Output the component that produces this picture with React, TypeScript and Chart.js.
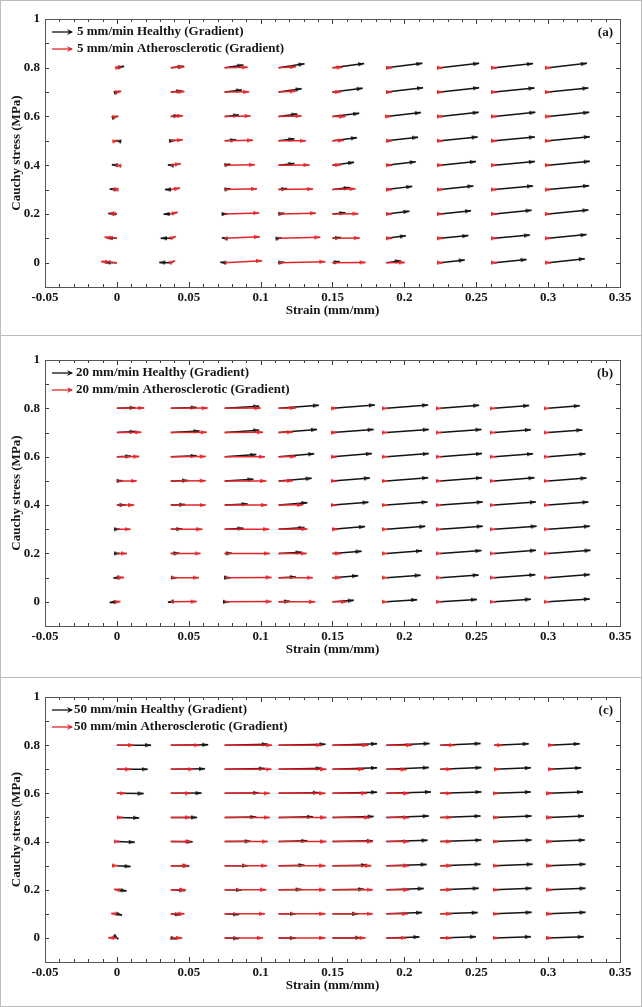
import React, { useEffect, useRef } from 'react';
import { Chart, registerables } from 'chart.js';

Chart.register(...registerables);

// Grid of arrow tails
const strainGrid = [0, 0.0375, 0.075, 0.1125, 0.15, 0.1875, 0.225, 0.2625, 0.3];
const stressGrid = [0.8, 0.7, 0.6, 0.5, 0.4, 0.3, 0.2, 0.1, 0];

// Axis definition
const xMin = -0.05;
const xMax = 0.35;
const xStep = 0.01;
const xLabelStep = 0.05;
const yMin = -0.1;
const yMax = 1;
const yStep = 0.1;
const yLabelStep = 0.2;

const xTitle = 'Strain (mm/mm)';
const yTitle = 'Cauchy stress (MPa)';

// ---------- Panel (a) 5 mm/min ----------
// rows follow stressGrid (0.8 -> 0), columns follow strainGrid
const aHealthyU = [
  [0.005, 0.009, 0.013, 0.018, 0.022, 0.025, 0.027, 0.027, 0.027],
  [0.002, 0.008, 0.012, 0.016, 0.021, 0.0255, 0.027, 0.028, 0.028],
  [0.0005, 0.006, 0.01, 0.013, 0.0186, 0.024, 0.0267, 0.0286, 0.0286],
  [-0.001, 0.003, 0.008, 0.011, 0.017, 0.022, 0.026, 0.0283, 0.029],
  [-0.0035, -0.002, 0.004, 0.011, 0.015, 0.0204, 0.0248, 0.0283, 0.029],
  [-0.005, -0.004, 0.004, 0.006, 0.012, 0.018, 0.023, 0.027, 0.0285],
  [-0.006, -0.005, 0.002, 0.004, 0.009, 0.016, 0.0214, 0.026, 0.028],
  [-0.007, -0.007, -0.002, 0.002, 0.006, 0.0135, 0.0195, 0.0248, 0.0267],
  [-0.0085, -0.008, -0.003, 0.004, 0.005, 0.01, 0.017, 0.0225, 0.0255],
];
const aHealthyV = [
  [0.006, 0.006, 0.011, 0.016, 0.017, 0.018, 0.018, 0.017, 0.018],
  [0.004, 0.005, 0.009, 0.014, 0.016, 0.018, 0.018, 0.017, 0.017],
  [0.001, 0.004, 0.006, 0.01, 0.013, 0.016, 0.017, 0.017, 0.017],
  [0.001, 0.002, 0.004, 0.008, 0.013, 0.015, 0.016, 0.016, 0.017],
  [0.002, 0.002, 0.004, 0.007, 0.012, 0.014, 0.015, 0.015, 0.016],
  [0.002, 0.0, 0.003, 0.004, 0.008, 0.013, 0.015, 0.015, 0.016],
  [0.002, -0.001, 0.001, 0.003, 0.005, 0.011, 0.013, 0.015, 0.016],
  [0.002, 0.0, 0.002, 0.002, 0.003, 0.01, 0.011, 0.013, 0.015],
  [0.001, 0.001, 0.002, 0.002, 0.005, 0.008, 0.011, 0.013, 0.016],
];
const aAthU = [
  [0.003, 0.0095, 0.016, 0.012, 0.007, 0.004, 0.002, 0.002, 0.002],
  [0.003, 0.0095, 0.017, 0.012, 0.006, 0.004, 0.002, 0.002, 0.002],
  [0.001, 0.0085, 0.018, 0.016, 0.009, 0.003, 0.002, 0.002, 0.002],
  [0.001, 0.0084, 0.0197, 0.019, 0.008, 0.004, 0.002, 0.002, 0.002],
  [-0.001, 0.007, 0.021, 0.0215, 0.006, 0.004, 0.002, 0.002, 0.002],
  [-0.003, 0.0065, 0.0225, 0.024, 0.016, 0.004, 0.002, 0.002, 0.002],
  [-0.005, 0.0048, 0.024, 0.026, 0.018, 0.004, 0.002, 0.002, 0.002],
  [-0.0085, 0.0035, 0.0245, 0.029, 0.019, 0.004, 0.002, 0.002, 0.002],
  [-0.011, 0.003, 0.026, 0.0325, 0.023, 0.0128, 0.002, 0.002, 0.002],
];
const aAthV = [
  [0.003, 0.004, 0.002, 0.004, 0.002, 0, 0, 0, 0],
  [0.003, 0.002, 0.001, 0.004, 0.001, 0, 0, 0, 0],
  [0.001, 0.003, 0.002, 0.002, 0, 0, 0, 0, 0],
  [0.001, 0.004, 0.002, 0.0, 0.002, 0, 0, 0, 0],
  [0.001, 0.006, 0.002, 0.001, 0.002, 0, 0, 0, 0],
  [0.001, 0.006, 0.003, 0.002, 0.003, 0, 0, 0, 0],
  [0.002, 0.007, 0.004, 0.003, 0.001, 0, 0, 0, 0],
  [0.004, 0.007, 0.006, 0.004, 0.001, 0, 0, 0, 0],
  [0.005, 0.008, 0.008, 0.004, 0.001, 0.001, 0, 0, 0],
];

// ---------- Panel (b) 20 mm/min ----------
const bHealthyU = [
  [0.013, 0.018, 0.024, 0.028, 0.0295, 0.029, 0.027, 0.0243, 0.022],
  [0.013, 0.02, 0.024, 0.0267, 0.0286, 0.0295, 0.0286, 0.0255, 0.0238],
  [0.01, 0.018, 0.022, 0.0248, 0.0274, 0.0295, 0.029, 0.027, 0.026],
  [0.004, 0.012, 0.02, 0.023, 0.026, 0.029, 0.029, 0.028, 0.0267],
  [0.006, 0.01, 0.016, 0.02, 0.025, 0.0286, 0.0295, 0.029, 0.028],
  [0.002, 0.008, 0.013, 0.018, 0.0226, 0.027, 0.0295, 0.0295, 0.029],
  [0.002, 0.006, 0.005, 0.016, 0.0202, 0.0248, 0.0286, 0.029, 0.0295],
  [-0.0025, 0.004, 0.004, 0.012, 0.0178, 0.0238, 0.0267, 0.0286, 0.029],
  [-0.005, -0.002, 0.003, 0.008, 0.0148, 0.0214, 0.0255, 0.0255, 0.029],
];
const bHealthyV = [
  [0.003, 0.004, 0.009, 0.013, 0.014, 0.014, 0.013, 0.012, 0.011],
  [0.004, 0.006, 0.01, 0.013, 0.013, 0.013, 0.013, 0.012, 0.011],
  [0.002, 0.004, 0.009, 0.012, 0.013, 0.013, 0.013, 0.012, 0.012],
  [0.001, 0.002, 0.007, 0.011, 0.012, 0.013, 0.013, 0.013, 0.012],
  [0.001, 0.002, 0.005, 0.01, 0.012, 0.013, 0.013, 0.013, 0.013],
  [0.0, 0.001, 0.004, 0.007, 0.011, 0.012, 0.013, 0.013, 0.013],
  [0.0, 0.001, 0.001, 0.005, 0.009, 0.011, 0.012, 0.013, 0.013],
  [-0.002, 0.0, 0.0, 0.003, 0.008, 0.01, 0.011, 0.012, 0.013],
  [-0.003, -0.002, 0.0, 0.002, 0.006, 0.009, 0.01, 0.011, 0.012],
];
const bAthU = [
  [0.019, 0.0257, 0.025, 0.012, 0.003, 0.001, 0.001, 0.001, 0.001],
  [0.017, 0.025, 0.0267, 0.01, 0.003, 0.001, 0.001, 0.001, 0.001],
  [0.0155, 0.0243, 0.028, 0.012, 0.003, 0.001, 0.001, 0.001, 0.001],
  [0.0138, 0.0243, 0.029, 0.01, 0.003, 0.001, 0.001, 0.001, 0.001],
  [0.012, 0.0243, 0.0295, 0.017, 0.003, 0.001, 0.001, 0.001, 0.001],
  [0.0095, 0.022, 0.031, 0.02, 0.004, 0.001, 0.001, 0.001, 0.001],
  [0.007, 0.0207, 0.0314, 0.0195, 0.006, 0.001, 0.001, 0.001, 0.001],
  [0.005, 0.0195, 0.0326, 0.0238, 0.006, 0.001, 0.001, 0.001, 0.001],
  [0.0025, 0.018, 0.0326, 0.0255, 0.01, 0.001, 0.001, 0.001, 0.001],
];
const bAthV = [
  [0.002, 0.001, 0.001, 0.002, 0, 0, 0, 0, 0],
  [0.001, 0.001, 0.001, 0.002, 0, 0, 0, 0, 0],
  [0.001, 0.001, 0.0, 0.001, 0, 0, 0, 0, 0],
  [0.0, 0.001, 0.0, 0.001, 0, 0, 0, 0, 0],
  [0.0, 0.0, 0.0, 0.001, 0, 0, 0, 0, 0],
  [0.0, 0.0, 0.0, 0.001, 0, 0, 0, 0, 0],
  [0.0, 0.0, 0.0, 0.0, 0, 0, 0, 0, 0],
  [0.001, 0.0, 0.001, 0.0, 0, 0, 0, 0, 0],
  [0.001, 0.001, 0.001, 0.0, 0, 0, 0, 0, 0],
];

// ---------- Panel (c) 50 mm/min ----------
const cHealthyU = [
  [0.0238, 0.026, 0.03, 0.0326, 0.031, 0.03, 0.028, 0.024, 0.022],
  [0.0214, 0.0238, 0.028, 0.03, 0.031, 0.0295, 0.0286, 0.0255, 0.023],
  [0.0186, 0.0214, 0.024, 0.028, 0.031, 0.031, 0.0286, 0.0255, 0.0243],
  [0.0155, 0.0183, 0.022, 0.024, 0.0286, 0.0295, 0.028, 0.026, 0.025],
  [0.0124, 0.0152, 0.018, 0.02, 0.028, 0.0286, 0.0286, 0.026, 0.0255],
  [0.0095, 0.0128, 0.016, 0.018, 0.024, 0.028, 0.028, 0.0267, 0.026],
  [0.0067, 0.01, 0.012, 0.016, 0.022, 0.026, 0.0267, 0.026, 0.026],
  [0.0036, 0.007, 0.01, 0.012, 0.018, 0.0248, 0.026, 0.026, 0.026],
  [0.001, 0.004, 0.01, 0.012, 0.02, 0.023, 0.0248, 0.0255, 0.0248],
];
const cHealthyV = [
  [0.0, 0.002, 0.004, 0.004, 0.006, 0.007, 0.007, 0.006, 0.006],
  [0.0, 0.002, 0.003, 0.004, 0.006, 0.007, 0.007, 0.006, 0.006],
  [-0.001, 0.001, 0.002, 0.003, 0.005, 0.006, 0.006, 0.006, 0.006],
  [-0.002, 0.0, 0.002, 0.003, 0.004, 0.006, 0.006, 0.006, 0.006],
  [-0.003, -0.001, 0.001, 0.003, 0.003, 0.005, 0.006, 0.006, 0.006],
  [-0.004, -0.001, 0.0, 0.002, 0.002, 0.005, 0.006, 0.006, 0.006],
  [-0.005, -0.003, -0.001, 0.001, 0.002, 0.005, 0.006, 0.006, 0.006],
  [-0.006, -0.004, -0.003, 0.0, 0.0, 0.005, 0.005, 0.006, 0.006],
  [-0.005, -0.004, -0.002, -0.001, 0.001, 0.004, 0.005, 0.005, 0.005],
];
const cAthU = [
  [0.012, 0.02, 0.033, 0.03, 0.025, 0.018, 0.01, 0.006, 0.004],
  [0.01, 0.016, 0.0326, 0.0333, 0.022, 0.014, 0.008, 0.004, 0.004],
  [0.006, 0.014, 0.0314, 0.0326, 0.024, 0.016, 0.008, 0.003, 0.003],
  [0.004, 0.014, 0.0314, 0.0333, 0.026, 0.016, 0.008, 0.003, 0.003],
  [0.002, 0.014, 0.03, 0.0333, 0.028, 0.016, 0.008, 0.003, 0.003],
  [0.001, 0.012, 0.0295, 0.0326, 0.027, 0.016, 0.008, 0.003, 0.003],
  [-0.002, 0.0105, 0.029, 0.0326, 0.028, 0.016, 0.008, 0.003, 0.003],
  [-0.004, 0.0095, 0.028, 0.0326, 0.028, 0.015, 0.008, 0.003, 0.003],
  [-0.006, 0.008, 0.0267, 0.0326, 0.023, 0.014, 0.008, 0.003, 0.003],
];
const cAthV = [
  [0.0, 0.0, 0.0, 0.0, 0.0, 0.0, 0.0, 0.0, 0.0],
  [0.0, 0.0, 0.0, 0.0, 0.0, -0.001, 0.0, 0.0, 0.0],
  [0.0, 0.0, 0.0, 0.0, 0.0, 0.0, 0.0, 0.0, 0.0],
  [0.0, 0.0, 0.0, 0.0, 0.0, 0.0, 0.0, 0.0, 0.0],
  [0.0, 0.0, 0.0, 0.0, 0.0, 0.0, 0.0, 0.0, 0.0],
  [0.0, 0.0, 0.0, 0.0, 0.0, 0.0, 0.0, 0.0, 0.0],
  [0.002, 0.0, 0.0, 0.0, 0.0, 0.0, 0.0, 0.0, 0.0],
  [0.001, 0.0, 0.0, 0.0, 0.0, 0.0, 0.0, 0.0, 0.0],
  [0.001, 0.0, 0.0, 0.0, 0.0, 0.0, 0.0, 0.0, 0.0],
];

const panelTags = ['(a)', '(b)', '(c)'];
const healthyLabels = [
  '5 mm/min Healthy (Gradient)',
  '20 mm/min Healthy (Gradient)',
  '50 mm/min Healthy (Gradient)',
];
const athLabels = [
  '5 mm/min Atherosclerotic (Gradient)',
  '20 mm/min Atherosclerotic (Gradient)',
  '50 mm/min Atherosclerotic (Gradient)',
];

const BLACK = '#141414';
const RED = '#e3262b';
const FONT_FAMILY = '"Liberation Serif", "Times New Roman", serif';
const TEXT_COLOR = '#161616';

type Grid = number[][];

// Elongated arrowhead image, tip at the image centre, pointing up
const headCache: Record<string, HTMLCanvasElement> = {};
function arrowHead(color: string) {
  if (headCache[color]) return headCache[color];
  const len = 6;
  const half = 2;
  const c = document.createElement('canvas');
  c.width = half * 2 + 2;
  c.height = len * 2;
  const g = c.getContext('2d');
  if (g) {
    const cx = c.width / 2;
    g.fillStyle = color;
    g.beginPath();
    g.moveTo(cx, len - 0.5);
    g.lineTo(cx + half, len * 2);
    g.lineTo(cx - half, len * 2);
    g.closePath();
    g.fill();
  }
  headCache[color] = c;
  return c;
}

function quiverPoints(u: Grid, v: Grid) {
  const pts: { x: number; y: number | null }[] = [];
  stressGrid.forEach((y0, r) => {
    strainGrid.forEach((x0, c) => {
      pts.push({ x: x0, y: y0 });
      pts.push({ x: x0 + u[r][c], y: y0 + v[r][c] });
      pts.push({ x: x0, y: null });
    });
  });
  return pts;
}

function arrowRotation(ctx: any) {
  const i = ctx.dataIndex;
  if (i % 3 !== 1) return 0;
  const d = ctx.dataset.data;
  const tip = d[i];
  const tail = d[i - 1];
  const xs = ctx.chart.scales.x;
  const ys = ctx.chart.scales.y;
  if (!xs || !ys) return 90;
  const dx = xs.getPixelForValue(tip.x) - xs.getPixelForValue(tail.x);
  const dy = ys.getPixelForValue(tip.y) - ys.getPixelForValue(tail.y);
  return (Math.atan2(dy, dx) * 180) / Math.PI + 90;
}

function makeDataset(label: string, u: Grid, v: Grid, color: string) {
  const head = arrowHead(color);
  return {
    label,
    data: quiverPoints(u, v),
    borderColor: color,
    backgroundColor: color,
    borderWidth: 1.5,
    spanGaps: false,
    tension: 0,
    pointStyle: (c: any) => (c.dataIndex % 3 === 1 ? head : 'circle'),
    pointRadius: (c: any) => (c.dataIndex % 3 === 1 ? 3 : 0),
    pointHoverRadius: 0,
    pointBorderWidth: 0,
    pointBackgroundColor: color,
    pointBorderColor: color,
    pointRotation: arrowRotation,
  };
}

function isMultiple(value: number, step: number) {
  const q = value / step;
  return Math.abs(q - Math.round(q)) < 1e-6;
}

const decorPlugin = {
  id: 'quiverDecor',
  afterDraw(chart: any, _args: any, opts: any) {
    const { ctx, chartArea } = chart;
    const { left, right, top, bottom } = chartArea;
    const xs = chart.scales.x;
    const ys = chart.scales.y;
    ctx.save();
    ctx.strokeStyle = '#3a3a3a';
    ctx.lineWidth = 1;
    // inward ticks
    ctx.beginPath();
    xs.ticks.forEach((t: any) => {
      const px = Math.round(xs.getPixelForValue(t.value)) + 0.5;
      const len = isMultiple(t.value, xLabelStep) ? 5 : 3;
      ctx.moveTo(px, bottom);
      ctx.lineTo(px, bottom - len);
      ctx.moveTo(px, top);
      ctx.lineTo(px, top + len);
    });
    ys.ticks.forEach((t: any) => {
      const py = Math.round(ys.getPixelForValue(t.value)) + 0.5;
      const len = 4;
      ctx.moveTo(left, py);
      ctx.lineTo(left + len, py);
      ctx.moveTo(right, py);
      ctx.lineTo(right - len, py);
    });
    ctx.stroke();
    // frame
    ctx.strokeStyle = '#555555';
    ctx.strokeRect(Math.round(left) + 0.5, Math.round(top) + 0.5, Math.round(right - left), Math.round(bottom - top));

    // legend
    ctx.font = `bold 13px ${FONT_FAMILY}`;
    ctx.textBaseline = 'middle';
    ctx.textAlign = 'left';
    const entries = opts.entries || [];
    entries.forEach((e: any, k: number) => {
      const y = top + opts.rowTop + k * 17;
      const x0 = left + 7;
      const x1 = left + 27;
      ctx.strokeStyle = e.color;
      ctx.fillStyle = e.color;
      ctx.lineWidth = 1.3;
      ctx.beginPath();
      ctx.moveTo(x0, y);
      ctx.lineTo(x1, y);
      ctx.stroke();
      ctx.beginPath();
      ctx.moveTo(x1 + 1, y);
      ctx.lineTo(x1 - 5, y - 3);
      ctx.lineTo(x1 - 3, y);
      ctx.lineTo(x1 - 5, y + 3);
      ctx.closePath();
      ctx.fill();
      ctx.fillStyle = TEXT_COLOR;
      ctx.fillText(e.text, left + opts.textOffset, y);
    });
    // panel tag
    ctx.textAlign = 'right';
    ctx.fillStyle = TEXT_COLOR;
    ctx.fillText(opts.tag, right - 7, top + 14);
    ctx.restore();
  },
};

const tickFont = { family: FONT_FAMILY, size: 13, weight: 'bold' as const };

function formatNum(v: number, digits: number) {
  return String(Number(v.toFixed(digits)));
}

interface PanelProps {
  index: number;
  top: number;
  height: number;
  areaTop: number;
  areaBottom: number;
  hu: Grid;
  hv: Grid;
  au: Grid;
  av: Grid;
  textOffset: number;
}

function QuiverPanel(props: PanelProps) {
  const ref = useRef<HTMLCanvasElement | null>(null);
  const { index, top, height, areaTop, areaBottom, hu, hv, au, av, textOffset } = props;
  useEffect(() => {
    if (!ref.current) return;
    const chart = new Chart(ref.current, {
      type: 'line',
      data: {
        datasets: [
          makeDataset(athLabels[index], au, av, RED) as any,
          makeDataset(healthyLabels[index], hu, hv, BLACK) as any,
        ],
      },
      options: {
        responsive: false,
        animation: false,
        events: [],
        layout: {
          padding: { left: 0, right: 23, top: areaTop, bottom: height - areaBottom - 31 },
        },
        plugins: {
          legend: { display: false },
          tooltip: { enabled: false },
          quiverDecor: {
            entries: [
              { text: healthyLabels[index], color: BLACK },
              { text: athLabels[index], color: RED },
            ],
            tag: panelTags[index],
            rowTop: 13,
            textOffset,
          },
        } as any,
        scales: {
          x: {
            type: 'linear',
            min: xMin,
            max: xMax,
            grid: { display: false, drawTicks: false, tickLength: 0 },
            border: { display: false },
            afterFit: (s: any) => {
              s.height = 31;
            },
            ticks: {
              stepSize: xStep,
              autoSkip: false,
              maxRotation: 0,
              padding: 3,
              color: TEXT_COLOR,
              font: tickFont,
              callback: (v: any) => (isMultiple(Number(v), xLabelStep) ? formatNum(Number(v), 2) : ''),
            },
            title: {
              display: true,
              text: xTitle,
              color: TEXT_COLOR,
              font: tickFont,
              padding: { top: 0, bottom: 0 },
            },
          },
          y: {
            type: 'linear',
            min: yMin,
            max: yMax,
            grid: { display: false, drawTicks: false, tickLength: 0 },
            border: { display: false },
            afterFit: (s: any) => {
              s.width = 45;
            },
            ticks: {
              stepSize: yStep,
              autoSkip: false,
              padding: 5,
              color: TEXT_COLOR,
              font: tickFont,
              callback: (v: any) => {
                const n = Number(v);
                return n > -1e-6 && isMultiple(n, yLabelStep) ? formatNum(n, 1) : '';
              },
            },
            title: {
              display: true,
              text: yTitle,
              color: TEXT_COLOR,
              font: tickFont,
              padding: { top: 9, bottom: 0 },
            },
          },
        },
      },
      plugins: [decorPlugin as any],
    });
    return () => chart.destroy();
  }, []);
  return (
    <canvas
      ref={ref}
      width={643}
      height={height}
      style={{ position: 'absolute', left: 0, top, width: 643, height, display: 'block' }}
    />
  );
}

const boxStyle = (top: number, height: number): React.CSSProperties => ({
  position: 'absolute',
  left: 0,
  top,
  width: 640,
  height,
  border: '1px solid #bdbdbd',
  pointerEvents: 'none',
});

export default function App() {
  return (
    <div style={{ position: 'absolute', left: 0, top: 0, width: 643, height: 1007, background: '#ffffff', overflow: 'hidden' }}>
      <div style={boxStyle(0, 334)} />
      <div style={boxStyle(335, 341)} />
      <div style={boxStyle(677, 328)} />
      <QuiverPanel index={0} top={0} height={335} areaTop={19} areaBottom={287} hu={aHealthyU} hv={aHealthyV} au={aAthU} av={aAthV} textOffset={32} />
      <QuiverPanel index={1} top={335} height={342} areaTop={25} areaBottom={291} hu={bHealthyU} hv={bHealthyV} au={bAthU} av={bAthV} textOffset={31} />
      <QuiverPanel index={2} top={677} height={330} areaTop={20} areaBottom={285} hu={cHealthyU} hv={cHealthyV} au={cAthU} av={cAthV} textOffset={29} />
    </div>
  );
}
